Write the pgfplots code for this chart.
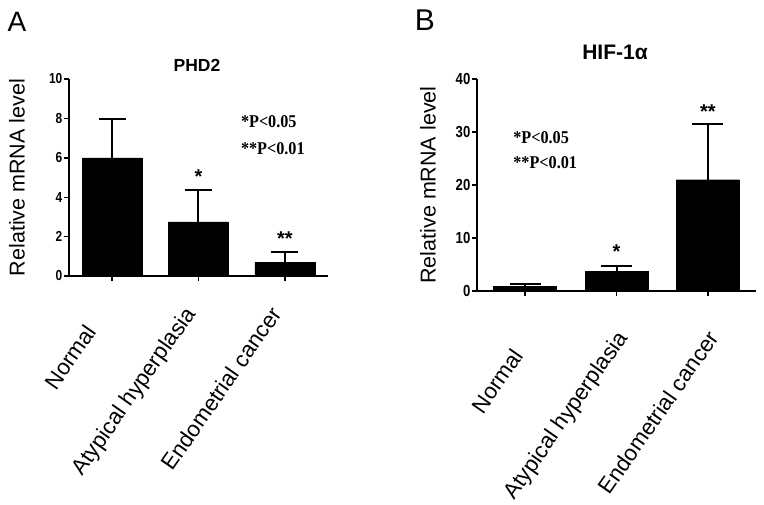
\documentclass[border=0pt]{standalone}
\usepackage{fontspec}
\setmainfont{Liberation Sans}
\newfontfamily\numfont[FakeStretch=0.82]{Liberation Sans}
\newfontfamily\serfont[FakeStretch=0.9]{Liberation Serif}
\usepackage{pgfplots}
\pgfplotsset{compat=1.18}

% GraphPad-like bar panel: #1,#2 tick label shift, #3 ylabel shift, #4 tick number size
\pgfplotsset{
  gpbar/.style n args={4}{
    scale only axis, ybar, clip=false,
    axis lines=left, axis line style={-, line width=1.6pt},
    ymin=0, xtick={0,1,2},
    xticklabels={Normal\hspace*{22pt}, Atypical hyperplasia, Endometrial cancer},
    tick style={black, line width=1.4pt}, major tick length=5pt, tick align=outside,
    /pgf/number format/assume math mode=true,
    yticklabel style={font=\numfont\bfseries\fontsize{#4}{#4}\selectfont, inner sep=1.5pt},
    xticklabel style={xshift=#1, yshift=#2, rotate=55, anchor=base east, inner sep=0pt,
      font=\fontsize{22.3}{22.3}\selectfont},
    ylabel={Relative mRNA level},
    ylabel style={at={([xshift=#3]axis description cs:0,0.5)}, anchor=center,
      font=\fontsize{21.5}{22}\selectfont},
  },
  gperr/.style={fill=black, draw=black,
    error bars/.cd, y dir=plus, y explicit,
    error bar style={line width=2pt, black},
    error mark options={rotate=90, mark size=#1, line width=2pt, black}},
}

\begin{document}
\begin{tikzpicture}
\useasboundingbox (0,0) rectangle (764pt,504pt);

% panel A
\node[font=\fontsize{28}{28}\selectfont] at (17pt,482pt) {A};
\node[font=\bfseries\fontsize{17.5}{17.5}\selectfont] at (197pt,439pt) {PHD2};
\begin{axis}[gpbar={-2pt}{-33pt}{-52pt}{14.5},
  at={(69pt,228pt)}, anchor=south west, width=259pt, height=197pt,
  xmin=-0.5, xmax=2.5, ymax=10, ytick={0,2,4,6,8,10}, bar width=60pt]
\addplot[gperr=13.5pt] coordinates {(0,6.0) +- (0,1.95) (1,2.75) +- (0,1.6) (2,0.7) +- (0,0.52)};
\node[font=\bfseries\fontsize{20}{20}\selectfont] at (axis cs:1,5.05) {*};
\node[font=\bfseries\fontsize{20}{20}\selectfont] at (axis cs:2,1.9) {**};
\node[anchor=west, inner sep=0pt, font=\serfont\bfseries\fontsize{18}{18}\selectfont] at (axis cs:1.49,7.82) {*P<0.05};
\node[anchor=west, inner sep=0pt, font=\serfont\bfseries\fontsize{18}{18}\selectfont] at (axis cs:1.49,6.45) {**P<0.01};
\end{axis}

% panel B
\node[font=\fontsize{30}{30}\selectfont] at (425pt,484pt) {B};
\node[font=\bfseries\fontsize{21}{21}\selectfont] at (615pt,452pt) {HIF-1α};
\begin{axis}[gpbar={12pt}{-42pt}{-49pt}{16},
  at={(477pt,213pt)}, anchor=south west, width=279pt, height=212pt,
  xmin=-0.525, xmax=2.525, ymax=40, ytick={0,10,20,30,40}, bar width=63pt]
\addplot[gperr=15.5pt] coordinates {(0,0.9) +- (0,0.5) (1,3.7) +- (0,1.0) (2,21.0) +- (0,10.6)};
\node[font=\bfseries\fontsize{20}{20}\selectfont] at (axis cs:1,7.4) {*};
\node[font=\bfseries\fontsize{20}{20}\selectfont] at (axis cs:2,33.8) {**};
\node[anchor=west, inner sep=0pt, font=\serfont\bfseries\fontsize{18}{18}\selectfont] at (axis cs:-0.13,28.9) {*P<0.05};
\node[anchor=west, inner sep=0pt, font=\serfont\bfseries\fontsize{18}{18}\selectfont] at (axis cs:-0.13,24.2) {**P<0.01};
\end{axis}
\end{tikzpicture}
\end{document}
